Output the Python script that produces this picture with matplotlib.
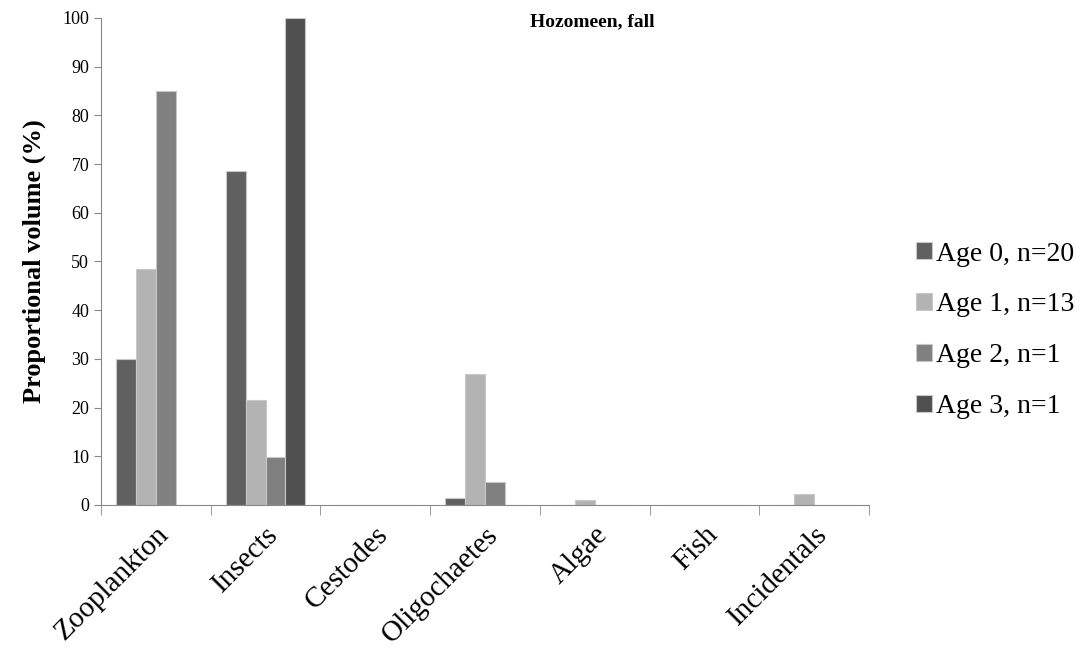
import matplotlib.pyplot as plt
import numpy as np

plt.rcParams['font.family'] = ['Liberation Serif', 'DejaVu Serif']

categories = ['Zooplankton', 'Insects', 'Cestodes', 'Oligochaetes', 'Algae', 'Fish', 'Incidentals']
series = ['Age 0, n=20', 'Age 1, n=13', 'Age 2, n=1', 'Age 3, n=1']
age0 = [30.0, 68.5, 0, 1.4, 0, 0, 0]
age1 = [48.5, 21.5, 0, 26.8, 1.1, 0, 2.3]
age2 = [85.0, 9.8, 0, 4.8, 0, 0, 0]
age3 = [0, 100.0, 0, 0, 0, 0, 0]
colors = ['#606060', '#b3b3b3', '#808080', '#505050']

fig = plt.figure(figsize=(10.88, 6.49), dpi=100)
ax = fig.add_axes([0.0928, 0.2219, 0.7059, 0.7504])

x = np.arange(len(categories))
w = 0.18
for i, (vals, name) in enumerate(zip([age0, age1, age2, age3], series)):
    ax.bar(x + (i - 1.5) * w, vals, w, color=colors[i], edgecolor='#c8c8c8',
           linewidth=0.8, label=name)

ax.set_xlim(-0.5, len(categories) - 0.5)
ax.set_ylim(0, 100)
ax.set_yticks(np.arange(0, 101, 10))
ax.set_xticks(x)
ax.set_xticklabels(categories, rotation=45, ha='right', rotation_mode='anchor', fontsize=21)
ax.set_xticks(np.arange(-0.5, len(categories), 1), minor=True)
ax.tick_params(axis='x', which='major', length=0, pad=12)
ax.tick_params(axis='x', which='minor', length=7, color='#888888', direction='out')
ax.tick_params(axis='y', length=5, color='#888888', labelsize=13)

for s in ['top', 'right']:
    ax.spines[s].set_visible(False)
for s in ['left', 'bottom']:
    ax.spines[s].set_color('#888888')

ax.set_ylabel('Proportional volume (%)', fontsize=19, fontweight='bold', labelpad=12)
ax.text(0.64, 0.993, 'Hozomeen, fall', transform=ax.transAxes, ha='center', va='center',
        fontsize=14, fontweight='bold')

fig.legend(loc='upper left', bbox_to_anchor=(0.832, 0.645), frameon=False, fontsize=20,
           handlelength=0.55, handleheight=0.55, handletextpad=0.15, labelspacing=0.93,
           borderaxespad=0)

fig.savefig('out.png', dpi=100)
